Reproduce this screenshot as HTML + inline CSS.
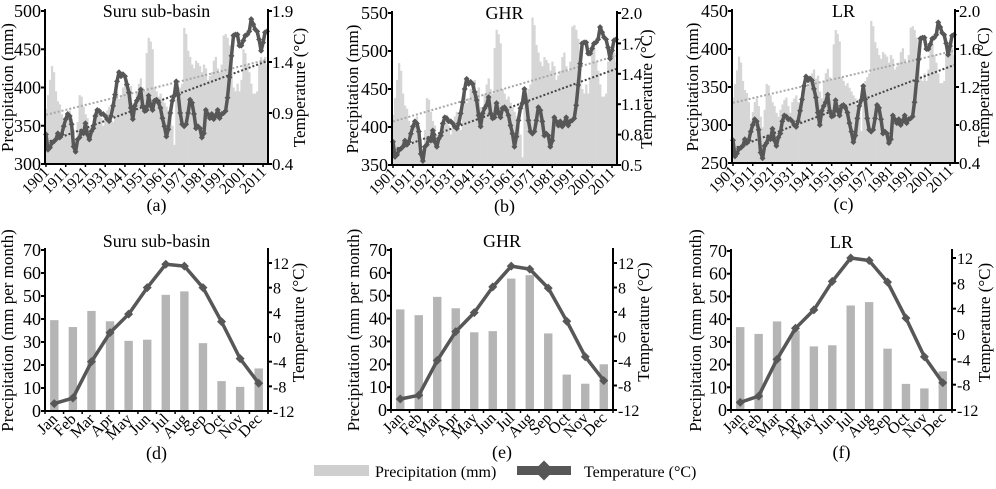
<!DOCTYPE html>
<html><head><meta charset="utf-8"><style>
html,body{margin:0;padding:0;background:#fff;}
svg, svg text{font-family:"Liberation Serif","DejaVu Serif",serif;}
</style></head><body>
<svg id="fig" width="996" height="484" viewBox="0 0 996 484" xmlns="http://www.w3.org/2000/svg" font-family="Liberation Serif, serif"></svg>
<script>
// ---------- annual data (1901 onward) ----------
const startYear = 1901;
const yearTicks = [1901,1911,1921,1931,1941,1951,1961,1971,1981,1991,2001,2011];
const precipSuru = [372,390,410,428,420,395,382,378,365,340,352,365,370,360,345,330,355,390,388,375,365,360,350,345,355,362,368,372,360,350,365,370,375,365,355,380,395,385,390,400,405,410,398,402,380,370,395,405,412,400,395,445,465,460,450,400,395,388,392,385,380,375,370,360,350,325,385,395,400,405,478,470,448,440,430,425,435,432,428,420,430,425,410,415,420,435,440,425,420,430,468,470,465,455,440,400,395,405,395,410,450,445,430,420,405,392,392,395,430,440,435,440,430];
const tempSuru = [0.69,0.54,0.56,0.61,0.62,0.64,0.70,0.66,0.69,0.77,0.84,0.89,0.87,0.79,0.57,0.52,0.64,0.66,0.72,0.70,0.80,0.69,0.64,0.72,0.75,0.87,0.93,0.92,0.89,0.89,0.87,0.84,0.82,0.87,0.97,1.08,1.21,1.30,1.26,1.28,1.26,1.18,1.10,0.95,0.84,0.97,1.02,1.05,1.13,0.97,0.92,0.93,1.07,0.97,0.93,1.02,1.03,1.00,0.95,0.85,0.77,0.67,0.74,0.90,1.02,1.07,1.21,1.08,0.90,0.79,0.77,0.79,0.90,1.03,1.00,0.89,0.75,0.77,0.75,0.66,0.70,0.93,0.89,0.85,0.89,0.84,0.87,0.93,0.85,0.89,0.90,0.92,1.05,1.25,1.46,1.66,1.67,1.67,1.56,1.56,1.61,1.66,1.67,1.70,1.82,1.77,1.72,1.70,1.62,1.51,1.59,1.69,1.70];
const precipGHR = [416,438,462,484,474,444,428,424,408,378,392,408,414,402,384,366,396,438,436,420,408,402,390,384,396,404,412,416,402,390,408,414,420,408,396,426,444,432,438,450,456,462,448,452,426,414,444,456,464,450,444,504,528,522,510,450,444,436,440,432,426,420,414,402,390,360,432,444,450,456,544,534,508,498,486,480,492,488,484,474,486,480,462,468,474,492,498,480,474,486,532,534,528,516,498,450,444,456,444,462,510,504,486,474,456,440,440,444,486,498,492,498,486];
const tempGHR = [0.73,0.58,0.60,0.65,0.66,0.68,0.74,0.70,0.73,0.81,0.88,0.93,0.91,0.83,0.61,0.54,0.68,0.70,0.76,0.74,0.84,0.73,0.68,0.76,0.79,0.91,0.97,0.96,0.93,0.93,0.91,0.88,0.86,0.91,1.01,1.12,1.25,1.35,1.30,1.32,1.30,1.22,1.14,0.99,0.88,1.01,1.06,1.09,1.17,1.01,0.96,0.97,1.11,1.01,0.97,1.06,1.07,1.04,0.99,0.89,0.81,0.68,0.78,0.94,1.06,1.11,1.25,1.12,0.94,0.83,0.81,0.83,0.94,1.07,1.04,0.93,0.79,0.81,0.79,0.68,0.74,0.97,0.93,0.89,0.93,0.88,0.91,0.97,0.89,0.93,0.94,0.96,1.09,1.29,1.50,1.70,1.71,1.71,1.60,1.60,1.65,1.70,1.71,1.74,1.86,1.81,1.76,1.74,1.66,1.55,1.63,1.73,1.74];
const precipLR = [336,354,372,390,382,358,346,342,330,306,317,330,335,325,311,297,320,354,352,339,330,325,316,311,320,327,333,336,325,316,330,335,339,330,320,344,358,349,354,363,368,373,361,365,344,335,358,368,374,363,358,406,425,420,410,363,358,352,355,349,344,339,335,325,316,292,349,358,363,368,437,430,409,401,392,387,396,393,390,382,392,387,373,377,382,396,401,387,382,392,428,430,425,415,401,363,358,368,358,373,410,406,392,382,368,355,355,358,392,401,396,401,392];
const tempLR = [0.64,0.47,0.50,0.55,0.56,0.58,0.65,0.61,0.64,0.73,0.80,0.86,0.84,0.75,0.51,0.45,0.58,0.61,0.67,0.65,0.76,0.64,0.58,0.67,0.71,0.84,0.90,0.89,0.86,0.86,0.84,0.80,0.78,0.84,0.95,1.07,1.21,1.31,1.27,1.29,1.27,1.18,1.09,0.93,0.80,0.95,1.00,1.04,1.12,0.95,0.89,0.90,1.06,0.95,0.90,1.00,1.01,0.98,0.93,0.82,0.73,0.62,0.69,0.87,1.00,1.06,1.21,1.07,0.87,0.75,0.73,0.75,0.87,1.01,0.98,0.86,0.71,0.73,0.71,0.61,0.65,0.90,0.86,0.82,0.86,0.80,0.84,0.90,0.82,0.86,0.87,0.89,1.04,1.26,1.49,1.71,1.72,1.72,1.60,1.60,1.65,1.71,1.72,1.75,1.88,1.83,1.77,1.75,1.66,1.54,1.63,1.74,1.75];

// ---------- monthly data ----------
const months = ["Jan","Feb","Mar","Apr","May","Jun","Jul","Aug","Sep","Oct","Nov","Dec"];
const mPrecipSuru = [39.5,36.5,43.5,39,30.5,31,50.5,52,29.5,13,10.5,18.5];
const mTempSuru = [-10.8,-9.9,-4,0.7,3.7,8,11.8,11.5,8,2.5,-3.5,-7.5];
const mPrecipGHR = [44,41.5,49.5,44.5,34,34.5,57.5,59,33.5,15.5,11.5,20];
const mTempGHR = [-10.2,-9.6,-3.9,0.8,3.9,8.1,11.5,11,7.9,2.5,-3.3,-7.2];
const mPrecipLR = [36.5,33.5,39,35,28,28.5,46,47.5,27,11.5,9.5,17];
const mTempLR = [-10.8,-9.8,-4,0.9,3.8,8.3,12,11.6,8.2,2.5,-3.6,-7.7];

const NS="http://www.w3.org/2000/svg";
const svg=document.getElementById('fig');
const FONT='Liberation Serif, serif';
function mk(tag,attrs,parent,text){
  const e=document.createElementNS(NS,tag);
  for(const k in attrs)e.setAttribute(k,attrs[k]);
  if(tag==='text')e.setAttribute('font-family',FONT);
  if(text!==undefined)e.textContent=text;
  (parent||svg).appendChild(e);return e;
}
function diamond(cx,cy,r){return `M${cx},${cy-r}L${cx+r},${cy}L${cx},${cy+r}L${cx-r},${cy}Z`;}
function linreg(arr){
  const n=arr.length;let sx=0,sy=0,sxx=0,sxy=0;
  arr.forEach((v,i)=>{sx+=i;sy+=v;sxx+=i*i;sxy+=i*v;});
  const b=(n*sxy-sx*sy)/(n*sxx-sx*sx);const a=(sy-b*sx)/n;return [a,b];
}

function topPanel(o){
  const g=mk('g',{});
  
  
  const n=o.precip.length;
  const x=yr=>o.x0+(yr-startYear+0.5)/n*(o.x1-o.x0);
  const yp=v=>o.y1-(v-o.pMin)/(o.pMax-o.pMin)*(o.y1-o.y0);
  const yt=v=>o.y1-(v-o.tMin)/(o.tMax-o.tMin)*(o.y1-o.y0);
  const bw=(o.x1-o.x0)/n;
  o.precip.forEach((v,i)=>{
    const r=mk('rect',{x:x(startYear+i)-bw/2,y:yp(v),width:bw+0.3,height:o.y1-yp(v),fill:'#d6d6d6'},g);
    
    
  });
  const rp=linreg(o.precip),rt=linreg(o.temp);
  const l1=mk('line',{x1:x(startYear),y1:yp(rp[0]),x2:x(startYear+n-1),y2:yp(rp[0]+rp[1]*(n-1)),stroke:'#a8a8a8','stroke-width':2,'stroke-dasharray':'2,2'},g);
  
  
  const l2=mk('line',{x1:x(startYear),y1:yt(rt[0]),x2:x(startYear+n-1),y2:yt(rt[0]+rt[1]*(n-1)),stroke:'#444','stroke-width':2,'stroke-dasharray':'2,2'},g);
  
  
  const pts=o.temp.map((v,i)=>x(startYear+i).toFixed(1)+','+yt(v).toFixed(1)).join(' ');
  const pl=mk('polyline',{points:pts,fill:'none',stroke:'#575757','stroke-width':3.5,'stroke-linejoin':'round'},g);
  
  
  let d='';o.temp.forEach((v,i)=>{d+=diamond(x(startYear+i),yt(v),3);});
  const mp=mk('path',{d:d,fill:'#575757'},g);
  
  
  mk('line',{x1:o.x0,y1:o.y0-2,x2:o.x0,y2:o.y1+1,stroke:'#000','stroke-width':2},g);
  mk('line',{x1:o.x1,y1:o.y0-2,x2:o.x1,y2:o.y1+1,stroke:'#000','stroke-width':2},g);
  mk('line',{x1:o.x0,y1:o.y1,x2:o.x1,y2:o.y1,stroke:'#000','stroke-width':2},g);
  o.pTicks.forEach(v=>{
    mk('line',{x1:o.x0-4,y1:yp(v),x2:o.x0,y2:yp(v),stroke:'#000','stroke-width':2},g);
    const t=mk('text',{x:o.x0-4,y:yp(v)+6,'text-anchor':'end','font-size':18},g,String(v));
    
    
  });
  o.tTicks.forEach(v=>{
    mk('line',{x1:o.x1,y1:yt(v),x2:o.x1+4,y2:yt(v),stroke:'#000','stroke-width':2},g);
    const t=mk('text',{x:o.x1+4,y:yt(v)+6,'font-size':17},g,v.toFixed(1));
    
    
  });
  yearTicks.forEach(yv=>{
    const xx=x(yv);
    mk('line',{x1:xx,y1:o.y1,x2:xx,y2:o.y1+3,stroke:'#000','stroke-width':1.5},g);
    const t=mk('text',{x:xx+4,y:o.y1+9,'text-anchor':'end','font-size':15.5,transform:`rotate(-45 ${xx+4} ${o.y1+9})`},g,String(yv));
    
    
  });
  const tt=mk('text',{x:(o.x0+o.x1)/2,y:o.y0+6,'text-anchor':'middle','font-size':18},g,o.title);
  
  
  const pa=mk('text',{x:(o.x0+o.x1)/2,y:o.y1+47,'text-anchor':'middle','font-size':18},g,o.label);
  
  
  const cy=(o.y0+o.y1)/2;
  const ly=mk('text',{x:o.lx,y:cy,'text-anchor':'middle','font-size':17,transform:`rotate(-90 ${o.lx} ${cy})`},g,'Precipitation (mm)');
  
  
  const ry=mk('text',{x:o.rx,y:cy,'text-anchor':'middle','font-size':17,transform:`rotate(-90 ${o.rx} ${cy})`},g,'Temperature (°C)');
  
  
}

function botPanel(o){
  const g=mk('g',{});
  
  
  const band=(o.x1-o.x0)/12;
  const x=i=>o.x0+band*(i+0.5);
  const yp=v=>o.yb-v/70*(o.yb-o.y70);
  const yt=v=>o.yb-(v+12)/24*(o.yb-o.y12);
  o.precip.forEach((v,i)=>{
    const r=mk('rect',{x:x(i)-4.2,y:yp(v),width:8.4,height:o.yb-yp(v),fill:'#b5b5b5'},g);
    
    
  });
  const pts=o.temp.map((v,i)=>x(i).toFixed(1)+','+yt(v).toFixed(1)).join(' ');
  const pl=mk('polyline',{points:pts,fill:'none',stroke:'#575757','stroke-width':3.5,'stroke-linejoin':'round'},g);
  
  
  o.temp.forEach((v,i)=>{
    const m=mk('path',{d:diamond(x(i),yt(v),4.5),fill:'#575757'},g);
    
    
  });
  mk('line',{x1:o.x0,y1:o.y70-2,x2:o.x0,y2:o.yb+1,stroke:'#000','stroke-width':2},g);
  mk('line',{x1:o.x1,y1:o.y70-2,x2:o.x1,y2:o.yb+1,stroke:'#000','stroke-width':2},g);
  mk('line',{x1:o.x0,y1:o.yb,x2:o.x1,y2:o.yb,stroke:'#000','stroke-width':2},g);
  for(let v=0;v<=70;v+=10){
    mk('line',{x1:o.x0-4,y1:yp(v),x2:o.x0,y2:yp(v),stroke:'#000','stroke-width':2},g);
    const t=mk('text',{x:o.x0-4,y:yp(v)+6,'text-anchor':'end','font-size':18},g,String(v));
    
    
  }
  for(let v=-12;v<=12;v+=4){
    mk('line',{x1:o.x1,y1:yt(v),x2:o.x1+4,y2:yt(v),stroke:'#000','stroke-width':2},g);
    const t=mk('text',{x:o.x1+5,y:yt(v)+6,'font-size':16},g,String(v));
    
    
  }
  for(let i=0;i<=12;i++){mk('line',{x1:o.x0+band*i,y1:o.yb,x2:o.x0+band*i,y2:o.yb+3,stroke:'#000','stroke-width':1.5},g);}
  months.forEach((mo,i)=>{
    const xx=x(i)+4;
    const t=mk('text',{x:xx,y:o.yb+9,'text-anchor':'end','font-size':16,transform:`rotate(-45 ${xx} ${o.yb+9})`},g,mo);
    
    
  });
  const tt=mk('text',{x:(o.x0+o.x1)/2,y:o.y70-3,'text-anchor':'middle','font-size':18},g,o.title);
  
  
  const pa=mk('text',{x:(o.x0+o.x1)/2,y:o.yb+48,'text-anchor':'middle','font-size':18},g,o.label);
  
  
  const cy=(o.y70+o.yb)/2;
  const ly=mk('text',{x:o.lx,y:cy,'text-anchor':'middle','font-size':17,transform:`rotate(-90 ${o.lx} ${cy})`},g,'Precipitation (mm per month)');
  
  
  const ry=mk('text',{x:o.rx,y:cy-8,'text-anchor':'middle','font-size':17,transform:`rotate(-90 ${o.rx} ${cy-8})`},g,'Temperature (°C)');
  
  
}

topPanel({name:'panel-a-suru-annual',precip:precipSuru,temp:tempSuru,x0:45,x1:268,y0:11,y1:164,pMin:300,pMax:500,tMin:0.4,tMax:1.9,pTicks:[300,350,400,450,500],tTicks:[0.4,0.9,1.4,1.9],title:'Suru sub-basin',label:'(a)',lx:13,rx:305});
topPanel({name:'panel-b-ghr-annual',precip:precipGHR,temp:tempGHR,x0:392,x1:617,y0:13,y1:165,pMin:350,pMax:550,tMin:0.5,tMax:2.0,pTicks:[350,400,450,500,550],tTicks:[0.5,0.8,1.1,1.4,1.7,2.0],title:'GHR',label:'(b)',lx:358,rx:652});
topPanel({name:'panel-c-lr-annual',precip:precipLR,temp:tempLR,x0:732,x1:955,y0:11,y1:163,pMin:250,pMax:450,tMin:0.4,tMax:2.0,pTicks:[250,300,350,400,450],tTicks:[0.4,0.8,1.2,1.6,2.0],title:'LR',label:'(c)',lx:698,rx:989});

botPanel({name:'panel-d-suru-monthly',precip:mPrecipSuru,temp:mTempSuru,x0:45,x1:268,yb:411,y70:250,y12:263,title:'Suru sub-basin',label:'(d)',lx:13,rx:304});
botPanel({name:'panel-e-ghr-monthly',precip:mPrecipGHR,temp:mTempGHR,x0:391,x1:613,yb:410,y70:250,y12:263,title:'GHR',label:'(e)',lx:359,rx:649});
botPanel({name:'panel-f-lr-monthly',precip:mPrecipLR,temp:mTempLR,x0:731,x1:952,yb:410,y70:251,y12:258,title:'LR',label:'(f)',lx:701,rx:990});

// legend
const lg=mk('g',{});


const lr=mk('rect',{x:314,y:465,width:55,height:11,fill:'#cfcfcf'},lg);


const lt=mk('text',{x:375,y:477,'font-size':16},lg,'Precipitation (mm)');


const ls=mk('rect',{x:517,y:466,width:54,height:9,fill:'#575757'},lg);


const ld=mk('path',{d:diamond(544,470.5,10),fill:'#575757'},lg);


const lt2=mk('text',{x:584,y:477,'font-size':16},lg,'Temperature (°C)');


</script>
</body></html>
